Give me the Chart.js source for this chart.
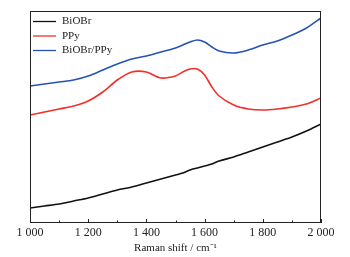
<!DOCTYPE html>
<html>
<head>
<meta charset="utf-8">
<script src="https://cdn.jsdelivr.net/npm/chart.js@4.4.1/dist/chart.umd.min.js"></script>
<style>
  html, body { margin: 0; padding: 0; background: #fff; }
  #wrap { width: 350px; height: 257px; }
</style>
</head>
<body>
<div id="wrap"><canvas id="ramanChart"></canvas></div>
<script>
// Raman shift (cm-1) and intensities (a.u.)
const shifts = [1000, 1050, 1100, 1150, 1200, 1250, 1300, 1350, 1400, 1450, 1500,
                1525, 1550, 1575, 1600, 1625, 1650, 1700, 1750, 1800, 1850, 1900, 1950, 2000];
const biobr = [15, 17, 19, 22, 25, 29, 33, 36, 40, 44, 48,
               50, 53, 55, 57, 59, 62, 66, 71, 76, 81, 86, 92, 99];
const ppy = [108, 111, 114, 117, 122, 131, 143, 151, 151, 145, 147,
             151, 154, 154, 148, 136, 127, 118, 114, 113, 114, 116, 119, 125];
const biobrPpy = [137, 139, 141, 143, 147, 153, 159, 164, 167, 171, 175,
                  178, 181, 183, 181, 176, 172, 170, 173, 178, 182, 188, 195, 205];
const seriesNames = ['BiOBr', 'PPy', 'BiOBr/PPy'];
const seriesColors = ['#111111', '#f0302a', '#2553b5'];
const labelTicks = [1000, 1200, 1400, 1600, 1800, 2000];

const serif = "'Liberation Serif', 'Times New Roman', serif";

function toPoints(ys) {
    return shifts.map((x, i) => ({ x: x, y: ys[i] }));
}

// frame, inward ticks and the in-plot legend
const framePlugin = {
    id: 'frame',
    afterDraw(chart) {
        const c = chart.ctx;
        const a = chart.chartArea;
        const xs = chart.scales.x;
        c.save();
        c.strokeStyle = '#222';
        c.lineWidth = 1;
        c.strokeRect(a.left + 0.5, a.top + 0.5, a.right - a.left - 1, a.bottom - a.top - 1);

        for (let v = 1000; v <= 2000; v += 100) {
            const px = Math.round(xs.getPixelForValue(v)) + 0.5;
            const len = labelTicks.includes(v) ? 4 : 2.5;
            c.beginPath();
            c.moveTo(px, a.bottom);
            c.lineTo(px, a.bottom - len);
            c.stroke();
        }

        c.font = '11px ' + serif;
        c.textBaseline = 'middle';
        c.fillStyle = '#222';
        chart.data.datasets.forEach((ds, i) => {
            const y = 21.5 + i * 14.5;
            c.strokeStyle = ds.borderColor;
            c.lineWidth = 1.3;
            c.beginPath();
            c.moveTo(33, y);
            c.lineTo(56, y);
            c.stroke();
            c.fillText(ds.label, 62, y);
        });
        c.restore();
    }
};

new Chart(document.getElementById('ramanChart').getContext('2d'), {
    type: 'line',
    data: {
        datasets: [biobr, ppy, biobrPpy].map((ys, i) => ({
            label: seriesNames[i],
            data: toPoints(ys),
            borderColor: seriesColors[i],
            borderWidth: 1.6,
            pointRadius: 0,
            tension: 0.3,
            fill: false
        }))
    },
    options: {
        responsive: true,
        maintainAspectRatio: false,
        animation: false,
        layout: { padding: { left: 30, right: 29, top: 11, bottom: 0 } },
        plugins: {
            legend: { display: false },
            tooltip: { enabled: false }
        },
        scales: {
            x: {
                type: 'linear',
                min: 1000,
                max: 2000,
                grid: { display: false, drawTicks: false },
                border: { display: false },
                afterFit: (s) => { s.height = 34; },
                ticks: {
                    stepSize: 100,
                    autoSkip: false,
                    maxRotation: 0,
                    padding: 3,
                    color: '#222',
                    font: { family: serif, size: 12 },
                    callback: (v) => labelTicks.includes(v)
                        ? String(v).replace(/\B(?=(\d{3})+(?!\d))/g, ' ')
                        : ''
                },
                title: {
                    display: true,
                    text: 'Raman shift / cm\u207B\u00B9',
                    color: '#222',
                    font: { family: serif, size: 11 },
                    padding: { top: 0, bottom: 2 }
                }
            },
            y: {
                display: false,
                min: 0,
                max: 212
            }
        }
    },
    plugins: [framePlugin]
});
</script>
</body>
</html>
